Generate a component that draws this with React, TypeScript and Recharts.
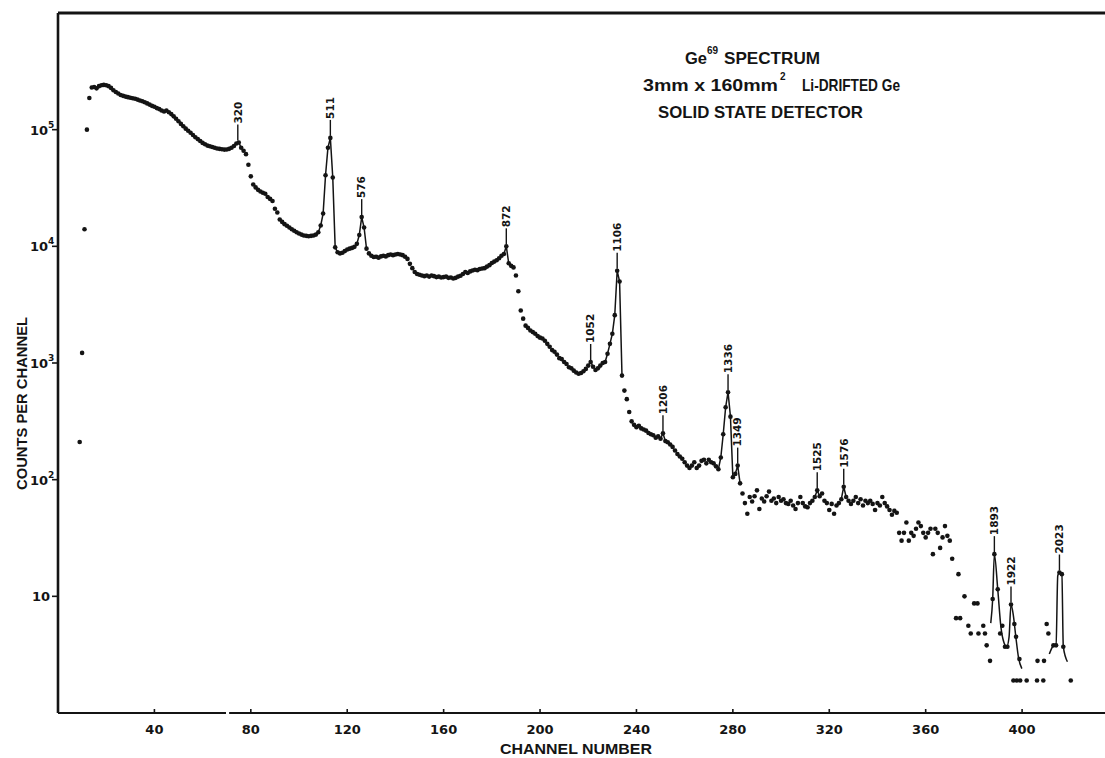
import React from "react";
import {
  ComposedChart,
  Scatter,
  Line,
  XAxis,
  YAxis,
  ReferenceLine,
  Label,
} from "recharts";

// ─── Data ─────────────────────────────────────────────────────────────────────

const FIRST_CHANNEL = 9;

// counts per channel, channel 9 … 371 (one value per channel)
const counts: number[] = [
  // 9–18
  210, 1220, 14000, 100000, 187000, 230000, 232000, 226000, 236000, 240000,
  // 19–28
  242000, 240000, 236000, 228000, 218000, 210000, 204000, 198000, 195000, 192000,
  // 29–38
  190000, 188000, 186000, 184000, 181000, 178000, 175000, 172000, 168000, 164000,
  // 39–48
  160000, 157000, 153000, 150000, 146000, 143000, 146000, 141000, 136000, 130000,
  // 49–58
  124000, 118000, 112000, 107000, 102000, 98000, 94000, 90000, 86000, 83000,
  // 59–68
  80000, 77000, 75000, 73000, 72000, 71000, 70000, 69000, 68500, 68000,
  // 69–78
  67500, 67600, 68500, 70000, 72500, 76000, 77600, 70000, 66000, 61700,
  // 79–88
  50100, 39800, 33900, 32000, 30500, 29500, 28800, 28200, 26500, 25500,
  // 89–98
  24500, 21000, 19500, 17000, 16200, 15500, 15000, 14500, 14000, 13600,
  // 99–108
  13200, 12900, 12600, 12400, 12300, 12200, 12300, 12400, 12600, 13200,
  // 109–118
  15100, 19100, 40700, 70000, 85000, 38900, 9800, 8900, 8700, 8800,
  // 119–128
  9100, 9400, 9550, 9700, 9900, 10500, 12500, 17800, 14500, 9550,
  // 129–138
  8700, 8300, 8100, 8130, 8000, 8200, 8300, 8200, 8400, 8500,
  // 139–148
  8400, 8500, 8600, 8500, 8400, 8130, 7800, 7080, 6500, 6030,
  // 149–158
  5800, 5700, 5620, 5550, 5620, 5500, 5620, 5550, 5450, 5500,
  // 159–168
  5400, 5450, 5500, 5370, 5400, 5300, 5370, 5500, 5600, 5800,
  // 169–178
  6030, 5900, 6100, 6200, 6300, 6250, 6400, 6460, 6500, 6700,
  // 179–188
  6900, 7200, 7400, 7590, 7900, 8300, 8600, 10000, 7160, 6800,
  // 189–198
  6600, 5620, 4120, 2820, 2400, 2090, 2000, 1900, 1840, 1780,
  // 199–208
  1700, 1650, 1620, 1550, 1460, 1380, 1290, 1250, 1180, 1100,
  // 209–218
  1080, 1020, 980, 920, 900, 860, 830, 810, 820, 850,
  // 219–228
  890, 950, 1020, 930, 870, 900, 950, 1000, 1020, 1200,
  // 229–238
  1460, 1780, 2570, 6170, 5000, 780, 580, 490, 380, 316,
  // 239–248
  295, 282, 290, 275, 269, 263, 251, 245, 240, 229,
  // 249–258
  235, 224, 250, 214, 209, 200, 191, 178, 166, 158,
  // 259–268
  151, 141, 132, 126, 132, 141, 126, 132, 145, 148,
  // 269–278
  138, 148, 141, 138, 130, 123, 155, 245, 417, 562,
  // 279–288
  347, 105, 112, 132, 93, 76, 63, 51, 71, 65,
  // 289–298
  72, 81, 56, 69, 65, 72, 79, 66, 69, 63,
  // 299–308
  71, 66, 68, 63, 62, 66, 60, 56, 63, 71,
  // 309–318
  63, 59, 58, 63, 66, 71, 81, 72, 76, 66,
  // 319–328
  63, 55, 62, 51, 60, 63, 68, 87, 71, 66,
  // 329–338
  62, 66, 71, 63, 68, 60, 66, 63, 66, 62,
  // 339–348
  55, 63, 60, 71, 63, 59, 55, 50, 54, 52,
  // 349–358
  35, 30, 35, 43, 30, 35, 33, 38, 43, 40,
  // 359–368
  35, 32, 35, 38, 23, 38, 35, 26, 32, 40,
  // 369–371
  33, 30, 21,
];

// sparse high-channel tail, read point by point
const tailChannels = [
  372.6, 373.6, 374.3, 376.1, 377.7, 378.7, 380.1, 381.5, 381.9, 383.9,
  384.6, 385.3, 386.7, 387.8, 388.5, 389.9, 390.9, 391.8, 392.9, 393.9,
  395.4, 396.8, 397.5, 398.9, 396.4, 397.8, 399.2, 401.9, 406.2, 406.4,
  408.8, 409.1, 410.2, 410.9, 413.0, 414.1, 415.5, 416.5, 417.1, 420.2,
];
const tailCounts = [
  6.5, 15.5, 6.5, 10, 5.6, 4.8, 8.7, 8.7, 4.8, 5.6,
  4.8, 3.8, 2.8, 9.5, 23, 11.5, 4.8, 5.6, 3.7, 3.7,
  8.5, 5.8, 4.5, 2.9, 1.9, 1.9, 1.9, 1.9, 1.9, 2.8,
  1.9, 2.8, 5.8, 4.8, 3.8, 3.8, 16, 15.5, 3.7, 1.9,
];

// channel ranges joined by a drawn line through the points
const peakRanges: [number, number][] = [
  [73, 77], [108, 116], [124, 128], [184, 188], [220, 222],
  [224, 234], [250, 252], [274, 280], [280, 283], [314, 316], [325, 327],
];

// hand-drawn curves through the 1893 / 1922 doublet and the 2023 line
const curveA_channels = [387.0, 387.8, 388.5, 389.9, 391.2, 392.5, 393.6, 394.6, 395.4, 396.4, 397.4, 398.5, 399.9];
const curveA_counts = [5.9, 9.5, 23, 11.5, 5.5, 4.0, 3.7, 4.5, 8.5, 6.8, 4.5, 3.0, 2.4];
const curveB_channels = [411.3, 413.0, 414.1, 414.8, 415.5, 416.5, 417.1, 418.8];
const curveB_counts = [3.2, 3.8, 3.9, 15, 16, 15.5, 3.7, 2.75];

// peak energies (keV) and where they sit
const peakLabels = ["320", "511", "576", "872", "1052", "1106", "1206", "1336", "1349", "1525", "1576", "1893", "1922", "2023"];
const peakChannels = [74.6, 113, 126, 186, 221, 232, 251, 278, 282, 315, 326, 388.5, 395.4, 415.5];
const peakCounts = [77600, 85000, 17800, 10000, 1020, 6170, 250, 562, 132, 81, 87, 23, 8.5, 16];

const xTicks = [40, 80, 120, 160, 200, 240, 280, 320, 360, 400];
const yTicks = [10, 100, 1000, 10000, 100000];

// ─── Derived series ───────────────────────────────────────────────────────────

const spectrum = [
  ...counts.map((c, i) => ({ x: FIRST_CHANNEL + i, y: c })),
  ...tailChannels.map((ch, i) => ({ x: ch, y: tailCounts[i] })),
];

const peakLines = peakRanges.map(([a, b]) =>
  counts.slice(a - FIRST_CHANNEL, b - FIRST_CHANNEL + 1).map((c, i) => ({ x: a + i, y: c }))
);

const curveA = curveA_channels.map((ch, i) => ({ x: ch, y: curveA_counts[i] }));
const curveB = curveB_channels.map((ch, i) => ({ x: ch, y: curveB_counts[i] }));

const peaks = peakLabels.map((label, i) => ({ x: peakChannels[i], y: peakCounts[i], label }));

// ─── Styling helpers ──────────────────────────────────────────────────────────

const INK = "#141414";
const NUM_FONT = "'DejaVu Sans', sans-serif";
const LETTER_FONT = "'Liberation Sans', Arial, sans-serif";

const Dot = (p: any) => <circle cx={p.cx} cy={p.cy} r={2.3} fill={INK} />;

const PeakMark = (p: any) => {
  const { cx, cy, payload } = p;
  const top = cy - 18;
  return (
    <g>
      <line x1={cx} y1={cy - 2} x2={cx} y2={top} stroke={INK} strokeWidth={1.4} />
      <text
        transform={`translate(${cx + 3.8},${top - 1}) rotate(-90)`}
        fontFamily={NUM_FONT}
        fontWeight="bold"
        fontSize={10.5}
        fill={INK}
      >
        {payload.label}
      </text>
    </g>
  );
};

const XTick = (p: any) => {
  const { x, y, payload } = p;
  return (
    <g>
      <line x1={x} y1={y} x2={x} y2={y - 4} stroke={INK} strokeWidth={1.6} />
      <text x={x} y={y + 21} textAnchor="middle" fontFamily={NUM_FONT} fontWeight="bold" fontSize={13} fill={INK}>
        {payload.value}
      </text>
    </g>
  );
};

const YTick = (p: any) => {
  const { x, y, payload } = p;
  const exp = Math.round(Math.log10(payload.value));
  const common = { fontFamily: NUM_FONT, fontWeight: "bold" as const, fill: INK };
  return (
    <g>
      <line x1={x - 6} y1={y} x2={x} y2={y} stroke={INK} strokeWidth={1.6} />
      {exp === 1 ? (
        <text x={x - 8} y={y + 5} textAnchor="end" fontSize={13} {...common}>10</text>
      ) : (
        <>
          <text x={x - 10} y={y + 5} textAnchor="end" fontSize={13} {...common}>10</text>
          <text x={x - 10} y={y - 2} fontSize={9} {...common}>{exp}</text>
        </>
      )}
    </g>
  );
};

const XTitle = (p: any) => {
  const vb = p.viewBox;
  return (
    <text
      x={vb.x + 442}
      y={vb.y + 41}
      textLength={152}
      lengthAdjust="spacingAndGlyphs"
      fontFamily={LETTER_FONT}
      fontWeight="bold"
      fontSize={14.5}
      fill={INK}
    >
      CHANNEL NUMBER
    </text>
  );
};

const YTitle = (p: any) => {
  const vb = p.viewBox;
  return (
    <text
      transform={`translate(${vb.x + 26.5},${vb.y + 477}) rotate(-90)`}
      textLength={173}
      lengthAdjust="spacingAndGlyphs"
      fontFamily={LETTER_FONT}
      fontWeight="bold"
      fontSize={15}
      fill={INK}
    >
      COUNTS PER CHANNEL
    </text>
  );
};

// ─── Component ────────────────────────────────────────────────────────────────

export default function App() {
  const title = { fontFamily: LETTER_FONT, fontWeight: "bold" as const, fill: INK };
  return (
    <div style={{ position: "absolute", left: 0, top: 0, width: 1105, height: 758, background: "#fff" }}>
      <ComposedChart width={1105} height={758} margin={{ top: 13, right: 0, bottom: 0, left: 0 }}>
        <XAxis
          dataKey="x"
          type="number"
          domain={[0, 434.4]}
          allowDataOverflow
          ticks={xTicks}
          tick={<XTick />}
          tickLine={false}
          tickSize={0}
          tickMargin={0}
          axisLine={false}
          height={45}
        >
          <Label content={<XTitle />} />
        </XAxis>
        <YAxis
          type="number"
          scale="log"
          domain={[1, 1000000]}
          allowDataOverflow
          ticks={yTicks}
          tick={<YTick />}
          tickLine={false}
          tickSize={0}
          tickMargin={0}
          axisLine={{ stroke: INK, strokeWidth: 2.6 }}
          width={58}
        >
          <Label content={<YTitle />} />
        </YAxis>

        {/* frame: top edge and the broken bottom edge */}
        <ReferenceLine y={1000000} stroke={INK} strokeWidth={3} />
        <ReferenceLine segment={[{ x: 0, y: 1 }, { x: 69.7, y: 1 }]} stroke={INK} strokeWidth={2.2} />
        <ReferenceLine segment={[{ x: 71, y: 1 }, { x: 434.4, y: 1 }]} stroke={INK} strokeWidth={2.2} />

        {peakLines.map((d, i) => (
          <Line
            key={`pk-${i}`}
            data={d}
            dataKey="y"
            type="linear"
            stroke={INK}
            strokeWidth={1.5}
            dot={false}
            activeDot={false}
            isAnimationActive={false}
          />
        ))}
        <Line data={curveA} dataKey="y" type="monotone" stroke={INK} strokeWidth={1.5} dot={false} activeDot={false} isAnimationActive={false} />
        <Line data={curveB} dataKey="y" type="monotone" stroke={INK} strokeWidth={1.5} dot={false} activeDot={false} isAnimationActive={false} />

        <Scatter data={spectrum} dataKey="y" shape={Dot} isAnimationActive={false} />
        <Scatter data={peaks} dataKey="y" shape={PeakMark} isAnimationActive={false} />
      </ComposedChart>

      <svg width={1105} height={758} style={{ position: "absolute", left: 0, top: 0, pointerEvents: "none" }}>
        <text x={685} y={64} fontSize={16.5} {...title}>Ge</text>
        <text x={707} y={54} fontSize={10} {...title}>69</text>
        <text x={724} y={64} fontSize={16.5} textLength={96} lengthAdjust="spacingAndGlyphs" {...title}>SPECTRUM</text>

        <text x={643} y={90.5} fontSize={16.5} textLength={135} lengthAdjust="spacingAndGlyphs" {...title}>3mm x 160mm</text>
        <text x={780} y={80} fontSize={10} {...title}>2</text>
        <text x={802} y={90.5} fontSize={16.5} textLength={98} lengthAdjust="spacingAndGlyphs" {...title}>Li-DRIFTED Ge</text>

        <text x={658} y={118} fontSize={16.5} textLength={205} lengthAdjust="spacingAndGlyphs" {...title}>SOLID STATE DETECTOR</text>
      </svg>
    </div>
  );
}
